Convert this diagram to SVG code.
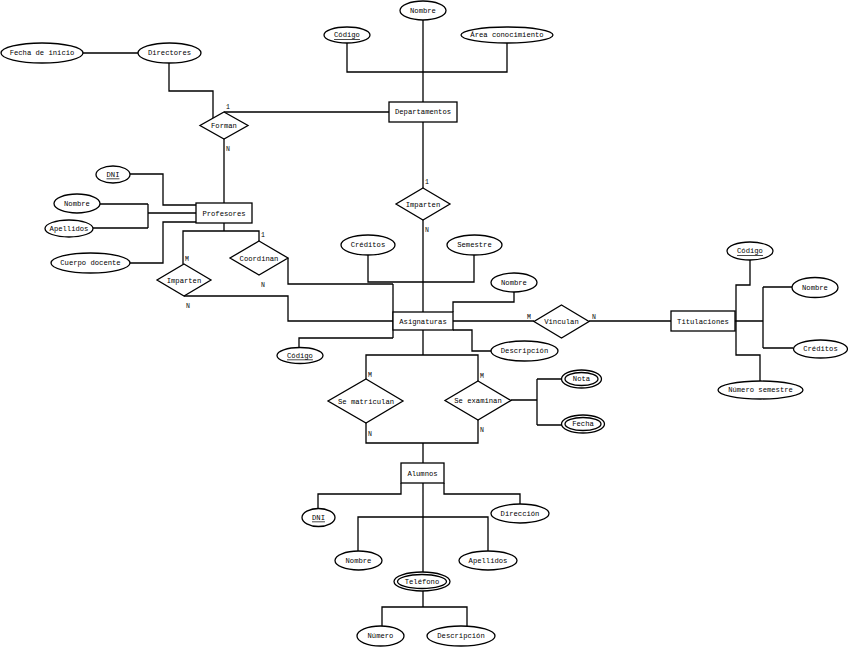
<svg xmlns="http://www.w3.org/2000/svg" width="848" height="647" viewBox="0 0 848 647">
<style>
.e{fill:#fff;stroke:#000;stroke-width:1.3}
.r{fill:#fff;stroke:#000;stroke-width:1.3}
.d{fill:#fff;stroke:#000;stroke-width:1.3}
.c{fill:none;stroke:#000;stroke-width:1.3}
text{font-family:"Liberation Mono","DejaVu Sans Mono",monospace;font-size:7.2px;fill:#000;text-anchor:middle;dominant-baseline:central}
.u{text-decoration:underline}
.k{font-size:6.5px;text-anchor:start}
</style>
<rect width="848" height="647" fill="#fff"/>
<g id="connectors">
<path class="c" d="M83,53H138 M169,63V91H213V118 M224,112H389 M224,139V203 M347,43V72H507V43 M423,20V102 M423,122V188 M423,220V312"/>
<path class="c" d="M130,174H163V205H196 M100,204H148 M93,228H148 M148,204V228 M148,213H196 M130,263H163V222H196"/>
<path class="c" d="M224,223V231 M183,264V231H259V241 M184,296H288V321H393 M288,258V284H393 M393,284V338"/>
<path class="c" d="M368,255V282H474V255 M514,292V302H453V312 M453,330H472V351H491 M299,347V338H393 M453,321H534 M589,321H671"/>
<path class="c" d="M750,260V285H736V355H760V381 M735,321H763 M763,287V348 M763,287H792 M763,348H793"/>
<path class="c" d="M423,330V355 M366,379V355H478V381 M366,423V443H478V420 M423,443V463 M511,400H537 M537,379V425 M537,379H561 M537,425H562"/>
<path class="c" d="M401,483V494H318V508 M444,483V494H520V504 M423,483V572 M358,552V517H488V551 M423,591V607 M382,627V607H467V626"/>
<text class="k" x="226" y="107">1</text>
<text class="k" x="226" y="149">N</text>
<text class="k" x="425" y="182">1</text>
<text class="k" x="425" y="230">N</text>
<text class="k" x="261" y="235">1</text>
<text class="k" x="185" y="259">M</text>
<text class="k" x="261" y="285">N</text>
<text class="k" x="186" y="306">N</text>
<text class="k" x="527" y="317">M</text>
<text class="k" x="592" y="317">N</text>
<text class="k" x="368" y="375">M</text>
<text class="k" x="368" y="434">N</text>
<text class="k" x="480" y="376">M</text>
<text class="k" x="480" y="430">N</text>
</g>
<g id="fecha-inicio"><ellipse class="e" cx="42" cy="53" rx="41" ry="10"/><text x="42" y="53">Fecha de inicio</text></g>
<g id="directores"><ellipse class="e" cx="169.5" cy="53" rx="31.5" ry="10"/><text x="169.5" y="53">Directores</text></g>
<g id="dep-codigo"><ellipse class="e" cx="347" cy="35" rx="23" ry="8"/><text class="u" x="347" y="35">Código</text></g>
<g id="dep-nombre"><ellipse class="e" cx="423" cy="10.5" rx="23" ry="9.5"/><text x="423" y="10.5">Nombre</text></g>
<g id="dep-area"><ellipse class="e" cx="507" cy="35" rx="46" ry="8"/><text x="507" y="35">Área conocimiento</text></g>
<g id="departamentos"><rect class="r" x="389" y="102" width="68" height="20"/><text x="423" y="112">Departamentos</text></g>
<g id="forman"><polygon class="d" points="224,112 248,125.5 224,139 200,125.5"/><text x="224" y="126">Forman</text></g>
<g id="imparten-dep"><polygon class="d" points="423,188 450,204 423,220 396,204"/><text x="423" y="204.5">Imparten</text></g>
<g id="prof-dni"><ellipse class="e" cx="113" cy="174.5" rx="17" ry="8.5"/><text class="u" x="113" y="174.5">DNI</text></g>
<g id="prof-nombre"><ellipse class="e" cx="77" cy="203.5" rx="23" ry="9.5"/><text x="77" y="203.5">Nombre</text></g>
<g id="prof-apellidos"><ellipse class="e" cx="69" cy="228.5" rx="24" ry="8.5"/><text x="69" y="228.5">Apellidos</text></g>
<g id="prof-cuerpo"><ellipse class="e" cx="90.5" cy="263" rx="39.5" ry="10"/><text x="90.5" y="263">Cuerpo docente</text></g>
<g id="profesores"><rect class="r" x="196" y="203" width="56" height="20"/><text x="224" y="213.5">Profesores</text></g>
<g id="imparten-prof"><polygon class="d" points="184,264 211,280 184,296 157,280"/><text x="184" y="280.5">Imparten</text></g>
<g id="coordinan"><polygon class="d" points="259,241 288,258 259,275 230,258"/><text x="259" y="258.5">Coordinan</text></g>
<g id="asig-creditos"><ellipse class="e" cx="368" cy="245" rx="27" ry="10"/><text x="368" y="245">Créditos</text></g>
<g id="asig-semestre"><ellipse class="e" cx="474.5" cy="245" rx="27.5" ry="10"/><text x="474.5" y="245">Semestre</text></g>
<g id="asig-nombre"><ellipse class="e" cx="514" cy="282.5" rx="23" ry="9.5"/><text x="514" y="282.5">Nombre</text></g>
<g id="asig-descripcion"><ellipse class="e" cx="524.5" cy="351" rx="33.5" ry="10"/><text x="524.5" y="351">Descripción</text></g>
<g id="asig-codigo"><ellipse class="e" cx="300" cy="355.5" rx="23" ry="8"/><text class="u" x="300" y="355.5">Código</text></g>
<g id="asignaturas"><rect class="r" x="393" y="312" width="60" height="18"/><text x="423" y="321.5">Asignaturas</text></g>
<g id="vinculan"><polygon class="d" points="561.5,305 589,321.5 561.5,338 534,321.5"/><text x="561.5" y="322">Vinculan</text></g>
<g id="titulaciones"><rect class="r" x="671" y="311" width="64" height="20"/><text x="703" y="321.5">Titulaciones</text></g>
<g id="tit-codigo"><ellipse class="e" cx="750" cy="251" rx="23" ry="9"/><text class="u" x="750" y="251">Código</text></g>
<g id="tit-nombre"><ellipse class="e" cx="815" cy="287.5" rx="23" ry="10"/><text x="815" y="287.5">Nombre</text></g>
<g id="tit-creditos"><ellipse class="e" cx="820.5" cy="349" rx="27" ry="9"/><text x="820.5" y="349">Créditos</text></g>
<g id="tit-numsem"><ellipse class="e" cx="760.5" cy="390" rx="42.5" ry="9"/><text x="760.5" y="390">Número semestre</text></g>
<g id="se-matriculan"><polygon class="d" points="366,379 403,401 366,423 328,401"/><text x="366" y="401.5">Se matriculan</text></g>
<g id="se-examinan"><polygon class="d" points="478,381 511,400.5 478,420 445,400.5"/><text x="478" y="401">Se examinan</text></g>
<g id="nota"><ellipse class="e" cx="581.5" cy="379" rx="20" ry="9"/><ellipse class="e" cx="581.5" cy="379" rx="16.5" ry="6.5"/><text x="581.5" y="379">Nota</text></g>
<g id="fecha"><ellipse class="e" cx="583" cy="424" rx="21.5" ry="9"/><ellipse class="e" cx="583" cy="424" rx="18" ry="6.5"/><text x="583" y="424">Fecha</text></g>
<g id="alumnos"><rect class="r" x="401" y="463" width="43" height="20"/><text x="422.5" y="473.5">Alumnos</text></g>
<g id="alu-dni"><ellipse class="e" cx="318.5" cy="517.5" rx="16.5" ry="9"/><text class="u" x="318.5" y="517.5">DNI</text></g>
<g id="alu-direccion"><ellipse class="e" cx="520" cy="513.5" rx="29" ry="9.5"/><text x="520" y="513.5">Dirección</text></g>
<g id="alu-nombre"><ellipse class="e" cx="358.5" cy="560.5" rx="23.5" ry="9.5"/><text x="358.5" y="560.5">Nombre</text></g>
<g id="alu-apellidos"><ellipse class="e" cx="488" cy="560.5" rx="29" ry="9.5"/><text x="488" y="560.5">Apellidos</text></g>
<g id="telefono"><ellipse class="e" cx="422" cy="581.5" rx="28" ry="9.5"/><ellipse class="e" cx="422" cy="581.5" rx="24.5" ry="7"/><text x="422" y="581.5">Teléfono</text></g>
<g id="tel-numero"><ellipse class="e" cx="380.5" cy="636" rx="23.5" ry="10"/><text x="380.5" y="636">Número</text></g>
<g id="tel-descripcion"><ellipse class="e" cx="461" cy="636" rx="34" ry="10"/><text x="461" y="636">Descripción</text></g>
</svg>
